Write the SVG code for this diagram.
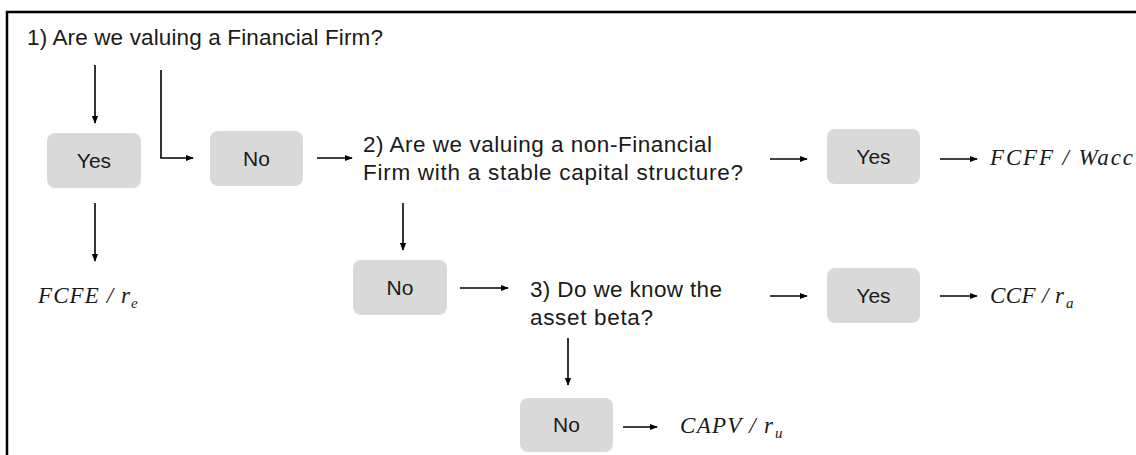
<svg xmlns="http://www.w3.org/2000/svg" width="1136" height="455" viewBox="0 0 1136 455">
<defs>
<marker id="ah" viewBox="0 0 10 10" refX="9" refY="5" markerWidth="8" markerHeight="8" markerUnits="userSpaceOnUse" orient="auto">
<path d="M0,1 L10,5 L0,9 z" fill="#000"/>
</marker>
<style>
.q{font-family:"Liberation Sans",Arial,sans-serif;font-size:22.5px;fill:#1a1a1a}
.b{fill:#d9d9d9}
.bl{font-family:"Liberation Sans",Arial,sans-serif;font-size:21px;fill:#1a1a1a;text-anchor:middle}
.m{font-family:"Liberation Serif","Times New Roman",serif;font-style:italic;font-size:23px;fill:#1a1a1a}
.s{font-size:15px}
.c{stroke:#000;stroke-width:1.6;fill:none;marker-end:url(#ah)}
</style>
</defs>
<rect width="1136" height="455" fill="#fff"/>
<path d="M1136,12 H7 V455" fill="none" stroke="#000" stroke-width="2.5"/>

<g id="q1"><text class="q" x="27" y="45" textLength="356">1) Are we valuing a Financial Firm?</text></g>
<g id="yes1"><rect class="b" x="47" y="133" width="94" height="55" rx="8"/><text class="bl" x="94" y="168">Yes</text></g>
<g id="no1"><rect class="b" x="210" y="131" width="93" height="55" rx="8"/><text class="bl" x="256.5" y="166">No</text></g>
<g id="fcfe"><text class="m" x="38" y="303" textLength="92">FCFE / <tspan>r</tspan></text><text class="m s" x="131" y="308">e</text></g>
<g id="q2"><text class="q" x="363" y="152" textLength="349">2) Are we valuing a non-Financial</text><text class="q" x="363" y="180" textLength="380">Firm with a stable capital structure?</text></g>
<g id="yes2"><rect class="b" x="827" y="129" width="93" height="55" rx="8"/><text class="bl" x="873.5" y="164">Yes</text></g>
<g id="fcff"><text class="m" x="990" y="165" textLength="143">FCFF / Wacc</text></g>
<g id="no2"><rect class="b" x="353" y="260" width="94" height="55" rx="8"/><text class="bl" x="400" y="295">No</text></g>
<g id="q3"><text class="q" x="530" y="297" textLength="192">3) Do we know the</text><text class="q" x="530" y="325" textLength="123">asset beta?</text></g>
<g id="yes3"><rect class="b" x="827" y="268" width="93" height="55" rx="8"/><text class="bl" x="873.5" y="303">Yes</text></g>
<g id="ccf"><text class="m" x="990" y="303" textLength="74">CCF / <tspan>r</tspan></text><text class="m s" x="1066" y="308">a</text></g>
<g id="no3"><rect class="b" x="520" y="398" width="93" height="54" rx="8"/><text class="bl" x="566.5" y="432">No</text></g>
<g id="capv"><text class="m" x="680" y="433" textLength="93">CAPV / <tspan>r</tspan></text><text class="m s" x="775" y="438">u</text></g>

<g id="connectors">
<path class="c" d="M95,65 V123"/>
<path class="c" d="M161,70 V158 H193"/>
<path class="c" d="M317,158 H352"/>
<path class="c" d="M95,203 V261"/>
<path class="c" d="M770,159 H807"/>
<path class="c" d="M940,159 H977"/>
<path class="c" d="M403,203 V250"/>
<path class="c" d="M460,288 H508"/>
<path class="c" d="M770,296 H807"/>
<path class="c" d="M940,296 H977"/>
<path class="c" d="M568,338 V385"/>
<path class="c" d="M623,427 H657"/>
</g>
</svg>
